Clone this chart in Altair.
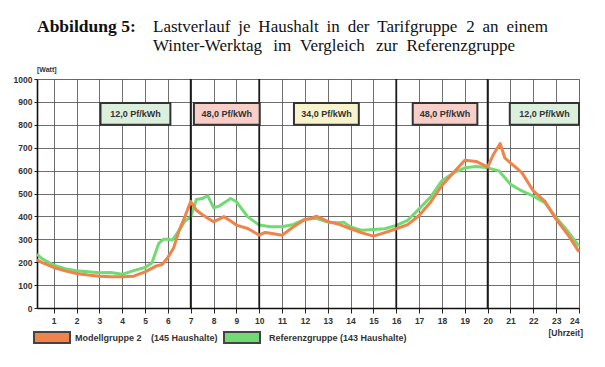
import altair as alt
import pandas as pd

# ---- data ----
hours_model = [0.27, 0.5, 1, 1.5, 2, 2.5, 3, 3.5, 4, 4.5, 5, 5.5, 5.75, 6, 6.25, 6.5, 6.75, 7,
               7.25, 7.5, 7.75, 8, 8.25, 8.45, 8.75, 9, 9.5, 10, 10.25, 10.5, 11, 11.5, 12,
               12.25, 12.5, 13, 13.5, 14, 14.5, 15, 15.5, 16, 16.5, 17, 17.5, 18, 18.5, 19,
               19.5, 20, 20.25, 20.55, 20.75, 21, 21.5, 22, 22.5, 23, 23.5, 24]
watt_model = [210, 198, 177, 162, 151, 144, 139, 137, 136, 139, 158, 184, 190, 221, 262, 340, 400, 465,
              427, 408, 392, 377, 388, 399, 380, 362, 347, 318, 330, 326, 318, 355, 387,
              390, 401, 378, 365, 346, 328, 314, 329, 346, 364, 404, 462, 535, 591, 645,
              640, 615, 670, 718, 656, 634, 591, 511, 467, 387, 322, 245]

hours_ref = [0.27, 0.5, 1, 1.5, 2, 2.5, 3, 3.5, 4, 4.5, 5, 5.3, 5.6, 5.8, 6, 6.2, 6.5, 6.75, 7,
             7.25, 7.5, 7.75, 8, 8.25, 8.5, 8.75, 9, 9.5, 10, 10.5, 11, 11.5, 12, 12.5, 13,
             13.5, 13.7, 14, 14.5, 15, 15.5, 16, 16.5, 17, 17.5, 18, 18.5, 19, 19.5, 20,
             20.5, 21, 21.5, 22, 22.5, 23, 23.5, 24]
watt_ref = [235, 215, 187, 172, 163, 158, 154, 155, 147, 163, 177, 197, 282, 300, 300, 297, 340, 380, 397,
            474, 478, 490, 438, 445, 462, 478, 464, 398, 362, 355, 355, 365, 387, 392, 375,
            372, 375, 354, 339, 343, 346, 361, 383, 433, 484, 556, 590, 612, 618, 612,
            598, 540, 511, 489, 460, 394, 336, 270]

tariff_labels = ["12,0 Pf/kWh", "48,0 Pf/kWh", "34,0 Pf/kWh", "48,0 Pf/kWh", "12,0 Pf/kWh"]
tariff_start = [3.05, 7.14, 11.52, 16.72, 20.97]
tariff_end = [6.11, 10.02, 14.36, 19.55, 24.0]
tariff_fill = ["#dcefdc", "#f7cfc8", "#f7f3cc", "#f7cfc8", "#dcefdc"]

zone_borders = [7, 10, 16, 20]
hour_ticks = list(range(1, 25))
watt_ticks = list(range(0, 1001, 100))

# caption (justified in the original)
title_line_1 = "Lastverlauf je Haushalt in der Tarifgruppe 2 an einem"
title_line_2 = "Winter-Werktag im Vergleich zur Referenzgruppe"

ORANGE = "#f0834a"
GREEN = "#72da72"

W, H = 542, 229

df_model = pd.DataFrame({"h": hours_model, "v": watt_model})
df_ref = pd.DataFrame({"h": hours_ref, "v": watt_ref})
df_tariff = pd.DataFrame({
    "x1": tariff_start, "x2": tariff_end, "y1": [800] * 5, "y2": [895] * 5,
    "label": tariff_labels, "fill": tariff_fill,
})
df_tariff["xm"] = (df_tariff["x1"] + df_tariff["x2"]) / 2
df_tariff["ym"] = 848
df_zone = pd.DataFrame({"h": zone_borders})
one = pd.DataFrame({"a": [0]})

xs = alt.Scale(domain=[0.27, 24], nice=False, zero=False)
ys = alt.Scale(domain=[0, 1000], nice=False)

x_axis = alt.Axis(values=hour_ticks, title=None, grid=True, gridColor="#4a4a4a", gridWidth=0.8,
                  domainColor="#111111", domainWidth=1.6, tickColor="#222222", tickSize=5,
                  labelFont="Liberation Sans", labelFontWeight="bold", labelFontSize=8.5,
                  labelColor="#333333", labelPadding=3, labelOverlap=False, format="d")
y_axis = alt.Axis(values=watt_ticks, title=None, grid=True, gridColor="#4a4a4a", gridWidth=0.8,
                  domainColor="#111111", domainWidth=1.6, tickColor="#222222", tickSize=3,
                  labelFont="Liberation Sans", labelFontWeight="bold", labelFontSize=8.5,
                  labelColor="#333333", labelPadding=2, labelOverlap=False, format="d")

ref_line = alt.Chart(df_ref).mark_line(color=GREEN, strokeWidth=3, strokeJoin="round").encode(
    x=alt.X("h:Q", scale=xs, axis=x_axis),
    y=alt.Y("v:Q", scale=ys, axis=y_axis),
)
model_line = alt.Chart(df_model).mark_line(color=ORANGE, strokeWidth=3, strokeJoin="round").encode(
    x=alt.X("h:Q", scale=xs, axis=x_axis),
    y=alt.Y("v:Q", scale=ys, axis=y_axis),
)

zones = alt.Chart(df_zone).mark_rule(color="#1a1a1a", strokeWidth=1.8).encode(
    x=alt.X("h:Q", scale=xs, axis=x_axis)
)

boxes = alt.Chart(df_tariff).mark_rect(stroke="#333333", strokeWidth=2).encode(
    x=alt.X("x1:Q", scale=xs, axis=x_axis), x2="x2:Q",
    y=alt.Y("y1:Q", scale=ys, axis=y_axis), y2="y2:Q",
    fill=alt.Fill("fill:N", scale=None),
)
box_text = alt.Chart(df_tariff).mark_text(font="Liberation Sans", fontWeight="bold", fontSize=9,
                                          color="#333333").encode(
    x=alt.X("xm:Q", scale=xs, axis=x_axis), y=alt.Y("ym:Q", scale=ys, axis=y_axis), text="label:N"
)

def txt(s, x, y, size, weight="normal", font="Liberation Sans", align="left",
        baseline="middle", color="#333333"):
    return alt.Chart(one).mark_text(text=s, font=font, fontSize=size, fontWeight=weight,
                                    align=align, baseline=baseline, color=color).encode(
        x=alt.value(x), y=alt.value(y))

def swatch(x1, x2, y1, y2, color):
    return alt.Chart(one).mark_rect(fill=color, stroke="#444444", strokeWidth=2).encode(
        x=alt.value(x1), x2=alt.value(x2), y=alt.value(y1), y2=alt.value(y2))

# --- justify caption lines word by word (Times/Liberation Serif advance widths, 1/1000 em)
ADV = {"L": 611, "a": 444, "s": 389, "t": 278, "v": 500, "e": 444, "r": 333, "l": 278,
       "u": 500, "f": 333, "j": 278, "H": 722, "h": 500, "i": 278, "n": 500, "d": 500,
       "T": 611, "g": 500, "p": 500, "2": 500, "m": 778, "W": 944, "-": 333, "k": 500,
       "V": 722, "c": 444, "z": 444, "R": 667}

def justified(line, x0, x1, y, size):
    words = line.split(" ")
    widths = [sum(ADV.get(c, 500) for c in w) * size / 1000 for w in words]
    gap = (x1 - x0 - sum(widths)) / (len(words) - 1)
    layers, x = [], x0
    for w, wd in zip(words, widths):
        layers.append(txt(w, x, y, size, font="Liberation Serif", baseline="alphabetic",
                          color="#111111"))
        x += wd + gap
    return layers

TS = 17
title1 = txt("Abbildung 5:", 0, -47, 17.5, weight="bold", font="Liberation Serif",
             baseline="alphabetic", color="#111111")
line1 = justified(title_line_1, 116, 511, -47, TS)
line2 = justified(title_line_2, 116, 478, -28, TS)

watt = txt("[Watt]", 0, -9, 7, weight="bold")
uhr = txt("[Uhrzeit]", 546, 254, 8.5, weight="bold", align="right")
sw1 = swatch(-3, 33, 253, 264, ORANGE)
sw2 = swatch(187, 223, 253, 264, GREEN)
lg1 = txt("Modellgruppe 2", 38, 259, 9, weight="bold")
lg1b = txt("(145 Haushalte)", 114, 259, 9, weight="bold")
lg2 = txt("Referenzgruppe (143 Haushalte)", 232, 259, 9, weight="bold")

chart = alt.layer(
    ref_line, zones, model_line, boxes, box_text,
    title1, *line1, *line2, watt, uhr, sw1, sw2, lg1, lg1b, lg2,
).properties(
    width=W, height=H,
    autosize=alt.AutoSizeParams(type="none"),
    padding={"left": 29, "top": 71, "right": 18, "bottom": 50},
).configure_view(stroke="#333333", strokeWidth=1.2).configure_axis(
    labelOverlap=False
).configure(background="white")

chart.save("out.html", embed_options={"renderer": "svg", "actions": False})
